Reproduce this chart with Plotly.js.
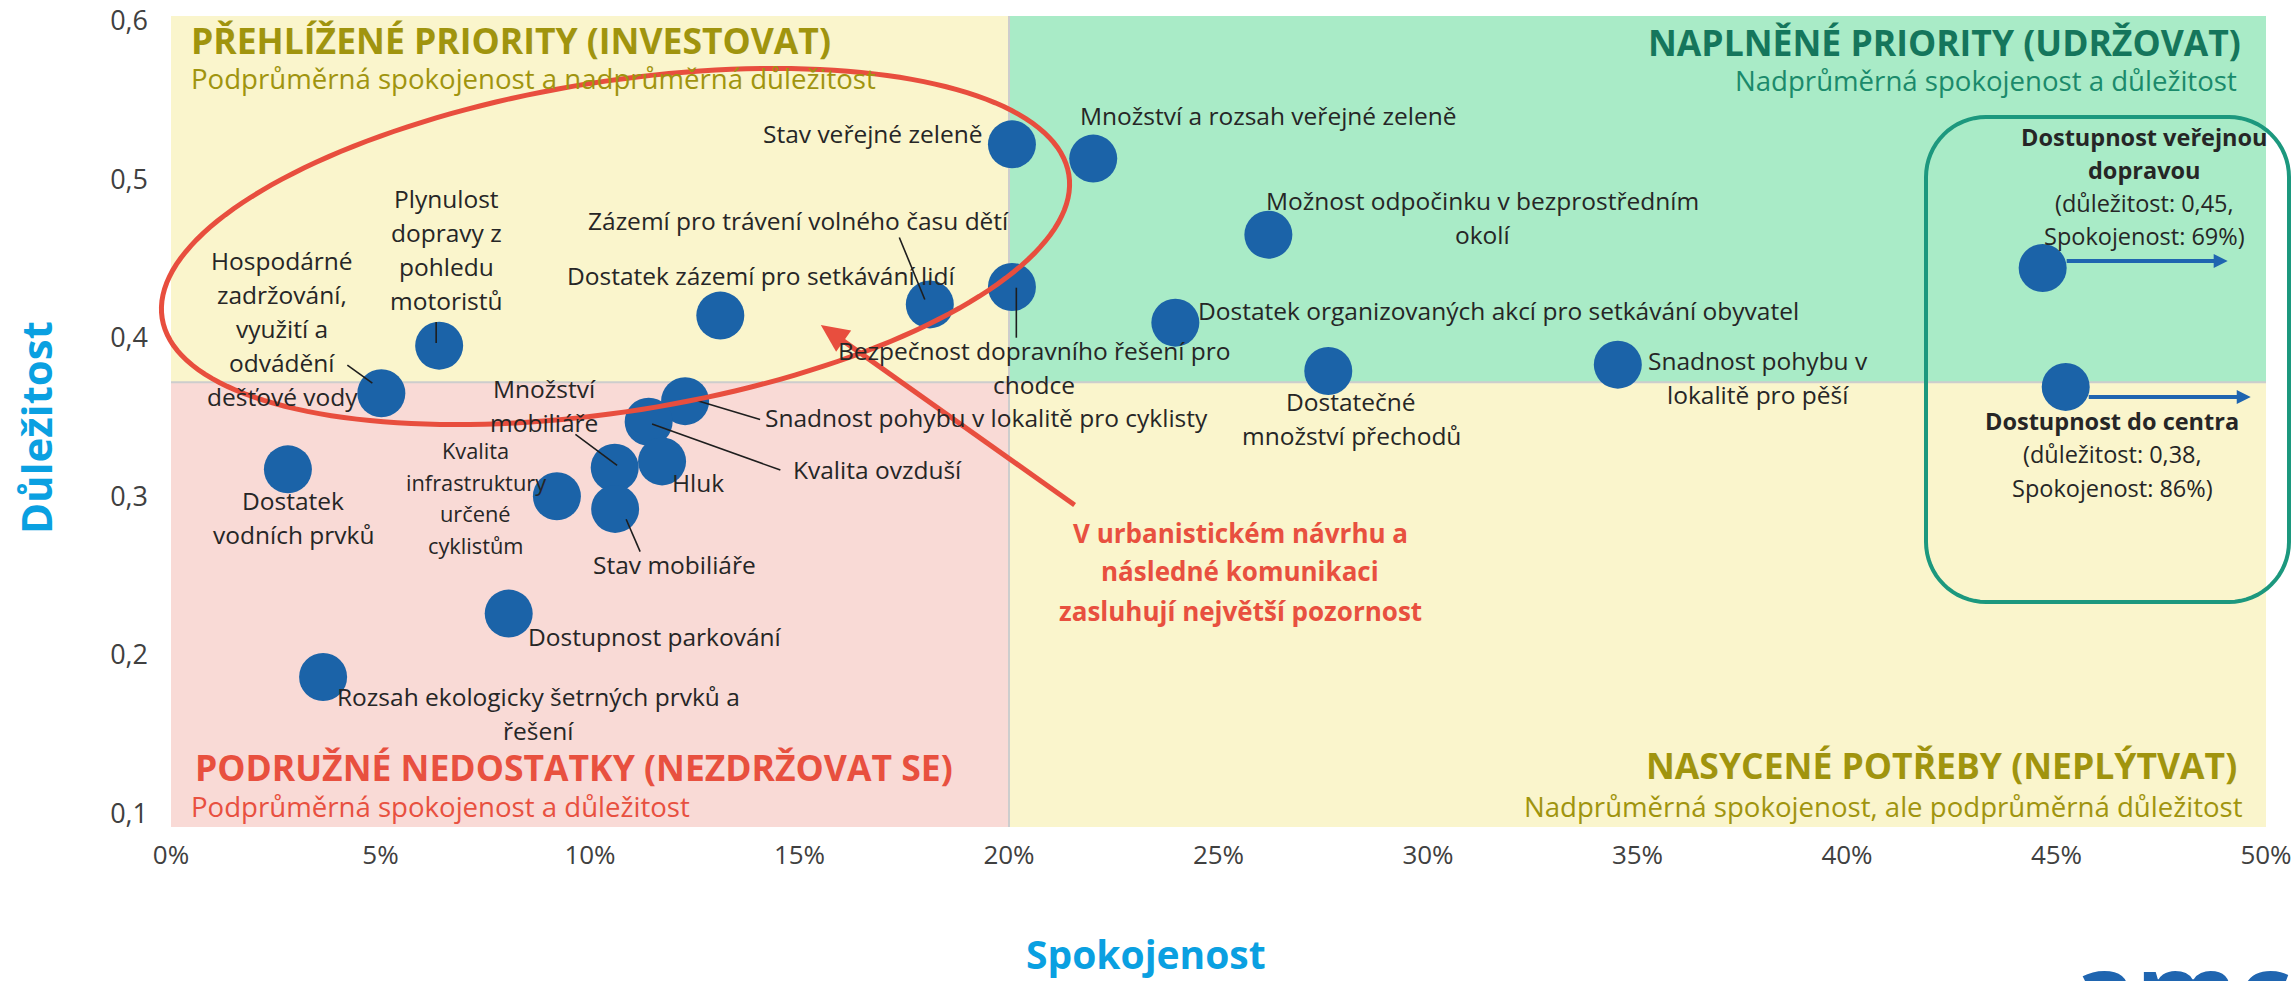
<!DOCTYPE html>
<html>
<head>
<meta charset="utf-8">
<script src="https://cdn.plot.ly/plotly-3.0.1.min.js"></script>
<style>
html,body{margin:0;padding:0;background:#ffffff;overflow:hidden;}
#chart{width:2295px;height:981px;}
</style>
</head>
<body>
<div id="chart"></div>
<script>
// ---------------- data ----------------
const categories = [
  'Stav veřejné zeleně',
  'Množství a rozsah veřejné zeleně',
  'Plynulost\ndopravy z\npohledu\nmotoristů',
  'Hospodárné\nzadržování,\nvyužití a\nodvádění\ndešťové vody',
  'Dostatek zázemí pro setkávání lidí',
  'Zázemí pro trávení volného času dětí',
  'Bezpečnost dopravního řešení pro\nchodce',
  'Možnost odpočinku v bezprostředním\nokolí',
  'Dostatek organizovaných akcí pro setkávání obyvatel',
  'Dostatečné\nmnožství přechodů',
  'Snadnost pohybu v\nlokalitě pro pěší',
  'Dostupnost veřejnou\ndopravou',
  'Dostupnost do centra',
  'Snadnost pohybu v lokalitě pro cyklisty',
  'Kvalita ovzduší',
  'Množství\nmobiliáře',
  'Hluk',
  'Stav mobiliáře',
  'Kvalita\ninfrastruktury\nurčené\ncyklistům',
  'Dostatek\nvodních prvků',
  'Dostupnost parkování',
  'Rozsah ekologicky šetrných prvků a\nřešení'
];
const satisfaction = [0.2007, 0.2201, 0.0640, 0.0502, 0.1311, 0.1811, 0.2007, 0.2619, 0.2397, 0.2762, 0.3453,
                      0.4467, 0.4522, 0.1227, 0.1140, 0.1059, 0.1172, 0.1060, 0.0921, 0.0279, 0.0806, 0.0363];
const importance   = [0.522, 0.513, 0.395, 0.365, 0.414, 0.421, 0.432, 0.465, 0.4095, 0.379, 0.383,
                      0.444, 0.369, 0.360, 0.347, 0.318, 0.322, 0.292, 0.300, 0.317, 0.226, 0.186];
// points drawn at the chart edge, with their real values
const offScaleIndex = [11, 12];
const offScaleImportance = [0.45, 0.38];
const offScaleSatisfaction = [0.69, 0.86];
// quadrant split (averages)
const avgSatisfaction = 0.2;
const avgImportance = 0.372;
const xTicks = [0, 0.05, 0.1, 0.15, 0.2, 0.25, 0.3, 0.35, 0.4, 0.45, 0.5];
const yTicks = [0.1, 0.2, 0.3, 0.4, 0.5, 0.6];
const quadrantTitles = ['PŘEHLÍŽENÉ PRIORITY (INVESTOVAT)', 'NAPLNĚNÉ PRIORITY (UDRŽOVAT)',
                        'PODRUŽNÉ NEDOSTATKY (NEZDRŽOVAT SE)', 'NASYCENÉ POTŘEBY (NEPLÝTVAT)'];
const quadrantSubtitles = ['Podprůměrná spokojenost a nadprůměrná důležitost', 'Nadprůměrná spokojenost a důležitost',
                           'Podprůměrná spokojenost a důležitost', 'Nadprůměrná spokojenost, ale podprůměrná důležitost'];
const calloutLines = ['V urbanistickém návrhu a', 'následné komunikaci', 'zasluhují největší pozornost'];
const xAxisTitle = 'Spokojenost';
const yAxisTitle = 'Důležitost';
const logoText = 'amc';

// ---------------- layout geometry / styles ----------------
const W = 2295, H = 981;
const L = 171, R = 2266, T = 16, B = 827;
const pxPerY = 1585.2;
const yMin = 0.1 - (B - 813.3) / pxPerY;
const yMax = 0.6 + (20.7 - T) / pxPerY;
const px2x = p => (p - L) / (R - L);
const py2y = p => (B - p) / (B - T);
const FONT = 'Open Sans, sans-serif';
const C = {
  yellow: '#faf5cc', green: '#a9ebc7', pink: '#f9dad6', split: '#cdcdcd',
  marker: '#1b63a8', olive: '#a0940e', teal: '#15765c', tealSub: '#1b8a6b', red: '#e8503f',
  ellipse: '#e84e3e', box: '#1c987e', label: '#262626', tick: '#404040', axis: '#0aa0e1', logo: '#1f65b0'
};

const placement = [
  {a:'right', dx:-27.6, dy:-9},
  {a:'left', dx:-15, dy:-41},
  {a:'center', dx:7, dy:-93.7},
  {a:'center', dx:-99, dy:-63},
  {a:'center', dx:40.3, dy:-37.7},
  {a:'center', dx:-131, dy:-82},
  {a:'center', dx:22.4, dy:82.7},
  {a:'center', dx:214.6, dy:-14.5},
  {a:'left', dx:20.7, dy:-9.7},
  {a:'center', dx:23, dy:49.3},
  {a:'center', dx:140, dy:15},
  {a:'center', dx:102.3, dy:-79.8, size:23.5, gap:33},
  {a:'center', dx:46.3, dy:69.4, size:23.5, gap:33.5},
  {a:'left', dx:78, dy:18.3},
  {a:'left', dx:142.7, dy:50},
  {a:'center', dx:-70.6, dy:-59.8},
  {a:'left', dx:8.3, dy:23.3},
  {a:'left', dx:-24.3, dy:57.7},
  {a:'center', dx:-81.1, dy:3.8, size:21.8, gap:31.7},
  {a:'center', dx:5.4, dy:50.7},
  {a:'left', dx:17.4, dy:24.7},
  {a:'center', dx:215, dy:39.1}
];
// leader lines: offsets from point centre in screen pixels (x right, y down)
const leaders = [
  {i:2, p:[-3,-23.7,-3,-2.7]},
  {i:3, p:[-34,-28,-9,-10]},
  {i:5, p:[-30.5,-67,-5,-5]},
  {i:6, p:[4.4,0.7,4.4,50.7]},
  {i:13, p:[8.3,-1.7,75,18.3]},
  {i:14, p:[3.4,2.3,131.7,48.3]},
  {i:15, p:[-39.3,-33.3,2.4,-2.3]},
  {i:17, p:[11,10.3,25,42.7]}
];
// blue arrows for off-scale points: [tailX, tipX, y] screen offsets
const offArrows = [[24, 185, -7], [23, 185, 10]];

const fmtComma = v => v.toFixed(2).replace('.', ',');

// ---------------- annotations ----------------
const annotations = [];
function addLines(lines, base, opts) {
  const n = lines.length, S = opts.gap, F = opts.size;
  lines.forEach((t, k) => {
    const off = opts.dy + (k - (n - 1) / 2) * S;
    annotations.push(Object.assign({
      text: t, showarrow: false, xanchor: opts.a, yanchor: 'middle',
      xshift: opts.dx, yshift: -off + 0.09 * F,
      font: {family: FONT, size: F, color: opts.color || C.label}
    }, base));
  });
}
categories.forEach((name, i) => {
  const pl = placement[i];
  let lines = name.split('\n');
  const oi = offScaleIndex.indexOf(i);
  if (oi >= 0) {
    lines = lines.map(s => '<b>' + s + '</b>');
    lines.push('(důležitost: ' + fmtComma(offScaleImportance[oi]) + ',');
    lines.push('Spokojenost: ' + Math.round(offScaleSatisfaction[oi] * 100) + '%)');
  }
  addLines(lines, {x: satisfaction[i], y: importance[i], xref: 'x', yref: 'y'},
    {a: pl.a, dx: pl.dx, dy: pl.dy, size: pl.size || 24.5, gap: pl.gap || 34});
});

// quadrant titles
const qPos = [
  {x:189, y:43, a:'left', c:C.olive, sy:80, sc:C.olive, sx:189},
  {x:2243, y:45, a:'right', c:C.teal, sy:83, sc:C.tealSub, sx:2239},
  {x:193, y:770, a:'left', c:C.red, sy:808, sc:C.red, sx:189},
  {x:2239, y:768, a:'right', c:C.olive, sy:808, sc:C.olive, sx:2245}
];
quadrantTitles.forEach((t, k) => {
  const q = qPos[k];
  annotations.push({xref:'paper', yref:'paper', x:px2x(q.x), y:py2y(q.y - 3), xanchor:q.a, yanchor:'middle',
    showarrow:false, text:'<b>' + t + '</b>', font:{family:FONT, size:35.5, color:q.c}});
  annotations.push({xref:'paper', yref:'paper', x:px2x(q.sx), y:py2y(q.sy - 2.5), xanchor:q.a, yanchor:'middle',
    showarrow:false, text:quadrantSubtitles[k], font:{family:FONT, size:27.6, color:q.sc}});
});
// red callout
calloutLines.forEach((t, k) => {
  annotations.push({xref:'paper', yref:'paper', x:px2x(1240), y:py2y(535 + 39 * k - 2.5), xanchor:'center', yanchor:'middle',
    showarrow:false, text:'<b>' + t + '</b>', font:{family:FONT, size:26, color:C.red}});
});
// axis titles
annotations.push({xref:'paper', yref:'paper', x:px2x(1146), y:py2y(953), xanchor:'center', yanchor:'middle',
  showarrow:false, text:'<b>' + xAxisTitle + '</b>', font:{family:FONT, size:39, color:C.axis}});
annotations.push({xref:'paper', yref:'paper', x:px2x(35), y:py2y(428), xanchor:'center', yanchor:'middle', textangle:-90,
  showarrow:false, text:'<b>' + yAxisTitle + '</b>', font:{family:FONT, size:42, color:C.axis}});
// logo (cut by the page edge, as in the source image)
annotations.push({xref:'paper', yref:'paper', x:px2x(2182), y:py2y(988), xanchor:'center', yanchor:'middle',
  showarrow:false, text:'<b>' + logoText + '</b>', font:{family:FONT, size:104, color:C.logo}});

// ---------------- shapes ----------------
const shapes = [
  {type:'rect', xref:'x', yref:'y', x0:0, x1:avgSatisfaction, y0:avgImportance, y1:yMax, fillcolor:C.yellow, line:{width:0}, layer:'below'},
  {type:'rect', xref:'x', yref:'y', x0:avgSatisfaction, x1:0.5, y0:avgImportance, y1:yMax, fillcolor:C.green, line:{width:0}, layer:'below'},
  {type:'rect', xref:'x', yref:'y', x0:0, x1:avgSatisfaction, y0:yMin, y1:avgImportance, fillcolor:C.pink, line:{width:0}, layer:'below'},
  {type:'rect', xref:'x', yref:'y', x0:avgSatisfaction, x1:0.5, y0:yMin, y1:avgImportance, fillcolor:C.yellow, line:{width:0}, layer:'below'},
  {type:'line', xref:'x', yref:'y', x0:0, x1:0.5, y0:avgImportance, y1:avgImportance, line:{color:C.split, width:2}, layer:'below'},
  {type:'line', xref:'x', yref:'y', x0:avgSatisfaction, x1:avgSatisfaction, y0:yMin, y1:yMax, line:{color:C.split, width:2}, layer:'below'}
];
leaders.forEach(ld => {
  const [a, b, c, d] = ld.p;
  shapes.push({type:'line', xref:'x', yref:'y', xsizemode:'pixel', ysizemode:'pixel',
    xanchor:satisfaction[ld.i], yanchor:importance[ld.i], x0:a, y0:-b, x1:c, y1:-d,
    line:{color:'#1e1e1e', width:1.6}, layer:'above'});
});
offScaleIndex.forEach((idx, k) => {
  const [t0, tip, yo] = offArrows[k];
  const hl = 14, hh = 7;
  shapes.push({type:'line', xref:'x', yref:'y', xsizemode:'pixel', ysizemode:'pixel',
    xanchor:satisfaction[idx], yanchor:importance[idx], x0:t0, y0:-yo, x1:tip - hl + 2, y1:-yo,
    line:{color:C.logo, width:4}, layer:'above'});
  shapes.push({type:'path', xref:'x', yref:'y', xsizemode:'pixel', ysizemode:'pixel',
    xanchor:satisfaction[idx], yanchor:importance[idx],
    path:`M${tip},${-yo} L${tip - hl},${-yo + hh} L${tip - hl},${-yo - hh} Z`,
    fillcolor:C.logo, line:{color:C.logo, width:0}, layer:'above'});
});
// red ellipse
(function(){
  const cx = 615.5, cy = 246.5, a = 459, b = 165, al = 9 * Math.PI / 180;
  let d = '';
  for (let i = 0; i <= 180; i++) {
    const t = 2 * Math.PI * i / 180;
    const X = cx + a * Math.cos(t) * Math.cos(al) + b * Math.sin(t) * Math.sin(al);
    const Y = cy - a * Math.cos(t) * Math.sin(al) + b * Math.sin(t) * Math.cos(al);
    d += (i ? 'L' : 'M') + px2x(X).toFixed(5) + ',' + py2y(Y).toFixed(5);
  }
  shapes.push({type:'path', xref:'paper', yref:'paper', path:d + 'Z', line:{color:C.ellipse, width:5}, layer:'above'});
})();
// red arrow
(function(){
  const x0 = 1074.6, y0 = 505, x1 = 820.8, y1 = 325, hl = 28, hh = 13;
  const len = Math.hypot(x1 - x0, y1 - y0), ux = (x1 - x0) / len, uy = (y1 - y0) / len, nx = -uy, ny = ux;
  const bx = x1 - ux * hl, by = y1 - uy * hl;
  shapes.push({type:'line', xref:'paper', yref:'paper', x0:px2x(x0), y0:py2y(y0), x1:px2x(bx + ux * 4), y1:py2y(by + uy * 4),
    line:{color:C.ellipse, width:5}, layer:'above'});
  shapes.push({type:'path', xref:'paper', yref:'paper',
    path:`M${px2x(x1)},${py2y(y1)} L${px2x(bx + nx * hh)},${py2y(by + ny * hh)} L${px2x(bx - nx * hh)},${py2y(by - ny * hh)} Z`,
    fillcolor:C.ellipse, line:{color:C.ellipse, width:0}, layer:'above'});
})();
// teal rounded box
(function(){
  const x0 = 1926, y0 = 117, x1 = 2289, y1 = 602, r = 60;
  const pts = [];
  const arc = (cx, cy, s, e) => { for (let i = 0; i <= 16; i++) { const t = s + (e - s) * i / 16; pts.push([cx + r * Math.cos(t), cy + r * Math.sin(t)]); } };
  arc(x0 + r, y0 + r, Math.PI, 1.5 * Math.PI);
  arc(x1 - r, y0 + r, 1.5 * Math.PI, 2 * Math.PI);
  arc(x1 - r, y1 - r, 0, 0.5 * Math.PI);
  arc(x0 + r, y1 - r, 0.5 * Math.PI, Math.PI);
  const d = pts.map((p, i) => (i ? 'L' : 'M') + px2x(p[0]).toFixed(5) + ',' + py2y(p[1]).toFixed(5)).join(' ') + ' Z';
  shapes.push({type:'path', xref:'paper', yref:'paper', path:d, line:{color:C.box, width:4}, layer:'above'});
})();

// ---------------- trace + layout ----------------
const trace = {
  type:'scatter', mode:'markers', x:satisfaction, y:importance,
  text:categories.map(s => s.replace(/\n/g, ' ')), hoverinfo:'text',
  marker:{size:48, color:C.marker, line:{width:0}}, cliponaxis:false
};
const layout = {
  width:W, height:H, margin:{l:L, r:W - R, t:T, b:H - B, pad:0},
  paper_bgcolor:'#ffffff', plot_bgcolor:'#ffffff', showlegend:false, separators:', ',
  xaxis:{range:[0, 0.5], tickvals:xTicks, tickformat:'.0%', showgrid:false, zeroline:false, showline:false,
    ticks:'', ticklabelstandoff:10, tickfont:{family:FONT, size:26, color:C.tick}, automargin:false, fixedrange:true},
  yaxis:{range:[yMin, yMax], tickvals:yTicks, tickformat:'.1f', showgrid:false, zeroline:false, showline:false,
    ticks:'', ticklabelstandoff:22, tickfont:{family:FONT, size:27, color:C.tick}, automargin:false, fixedrange:true},
  shapes:shapes, annotations:annotations
};
Plotly.newPlot('chart', [trace], layout, {displayModeBar:false, staticPlot:true});
</script>
</body>
</html>
